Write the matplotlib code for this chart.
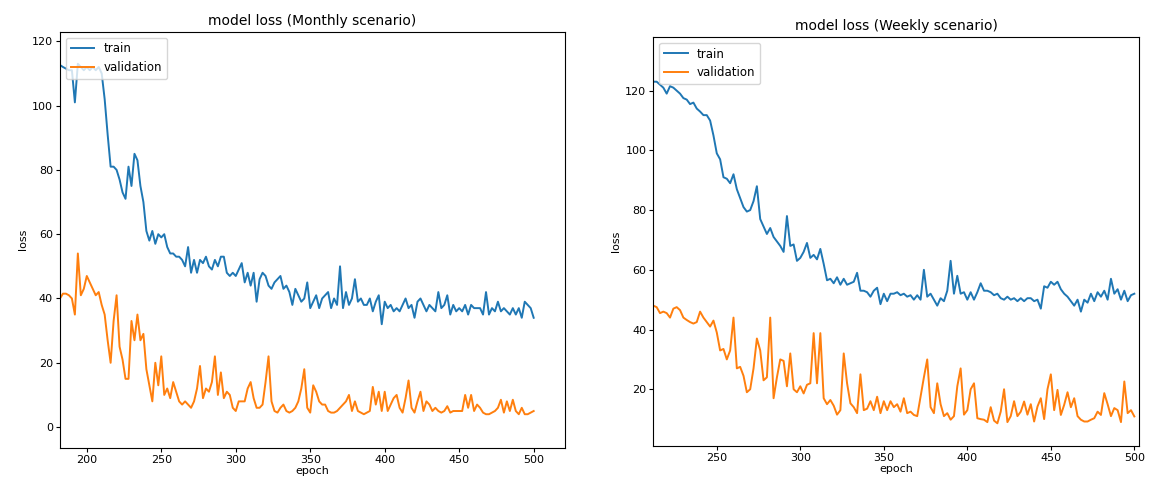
# model loss curves, monthly vs weekly scenario

import numpy as np
import matplotlib
matplotlib.use('Agg')
import matplotlib.pyplot as plt

# monthly scenario, every 2nd epoch from 182 to 500
monthly_epochs = np.arange(182, 501, 2)
monthly_train = [
    112.6, 112, 111.5, 111, 111, 101, 113, 112, 111, 112,
    111, 112, 111, 112, 110, 102, 91, 81, 81, 80,
    77, 73, 71, 81, 75, 85, 83, 75, 70, 61,
    58, 61, 57, 60, 59, 60, 56, 54, 54, 53,
    53, 52, 50, 56, 48, 52, 48, 52, 51, 53,
    50, 49, 52, 50, 53, 53, 48, 47, 48, 47,
    49, 51, 45, 48, 44, 48, 39, 46, 48, 47,
    44, 43, 45, 46, 47, 43, 44, 42, 38, 43,
    41, 39, 40, 45, 37, 39, 41, 37, 40, 41,
    42, 37, 40, 38, 50, 37, 42, 38, 40, 46,
    39, 40, 38, 38, 40, 36, 39, 41, 32, 39,
    37, 38, 36, 37, 36, 38, 40, 37, 38, 34,
    39, 40, 38, 36, 38, 37, 36, 42, 37, 38,
    41, 35, 38, 36, 37, 36, 38, 35, 38, 37,
    37, 37, 35, 42, 35, 37, 36, 39, 36, 37,
    36, 35, 37, 35, 37, 34, 39, 38, 37, 34,
]
monthly_val = [
    40, 41.5, 41.5, 41, 40, 35, 54, 41, 43, 47,
    45, 43, 41, 42, 38, 35, 27, 20, 33, 41,
    25, 21, 15, 15, 33, 27, 35, 27, 29, 18,
    13, 8, 20, 13, 22, 10, 12, 9, 14, 11,
    8, 7, 8, 7, 6, 8, 12, 19, 9, 12,
    11, 14, 22, 10, 17, 9, 11, 10, 6, 5,
    8, 8, 8, 12, 14, 9, 6, 6, 7, 14,
    22, 8, 5, 4.5, 6, 7, 5, 4.5, 5, 6,
    8, 12, 18, 6, 4.5, 13, 11, 8, 7, 7,
    5, 4.5, 4.5, 5, 6, 7, 8, 10, 5, 8,
    5, 4.5, 4, 4.5, 5, 12.5, 7, 11, 5, 11,
    5, 7, 9, 10, 6, 4.5, 9, 14.5, 6, 4.5,
    8, 11, 5, 8, 7, 5, 6, 5, 4.5, 5,
    6.5, 4.5, 5, 5, 5, 5, 10, 6, 10, 5,
    7, 6, 4.5, 4, 4, 4.5, 5, 6, 8.5, 4.5,
    8, 5, 8.5, 5, 4, 6, 4, 4, 4.5, 5,
]

# weekly scenario, every 2nd epoch from 212 to 500
weekly_epochs = np.arange(212, 501, 2)
weekly_train = [
    123, 123, 122, 121, 119, 121.5, 121, 120, 119, 117.5,
    117, 115.5, 116, 114, 113, 111.8, 111.8, 110, 105, 99,
    97, 91, 90.5, 89, 92, 87, 84, 81, 79.5, 80,
    83, 88, 77, 74.5, 72, 74, 71, 69.5, 68, 66,
    78, 68, 68.5, 63, 64, 66, 69, 64, 65, 63.5,
    67, 62, 56.5, 57, 55.5, 57.5, 55, 57, 55, 55.5,
    56, 59, 53, 53, 52.5, 51, 53, 54, 48.5, 52,
    49.5, 52, 52, 52.5, 51.5, 52, 51, 51.5, 50, 51.5,
    50, 60, 51, 52, 50, 48, 50.5, 49.5, 53, 63,
    52, 58, 52, 52.5, 50, 52.5, 50, 52.5, 55.5, 53,
    53, 52.5, 51.5, 52, 50.5, 50, 51, 50, 50.5, 49.5,
    50.5, 49.5, 50.5, 50.5, 49.5, 50, 47, 54.5, 54, 56,
    55, 56, 53.5, 52, 51, 49.5, 48, 50, 46, 50,
    49, 52, 49.5, 52.5, 51, 53, 50, 57, 52, 53.5,
    50, 53, 49.5, 51.5, 52,
]
weekly_val = [
    48, 47.5, 45.5, 46, 45.5, 44, 47, 47.5, 46.5, 44,
    43.2, 42.5, 42, 42.5, 46, 44, 42.5, 41, 43, 39,
    33, 33.5, 30, 33, 44, 27, 27.5, 24.5, 19, 20,
    27, 37, 33, 23, 24, 44, 17, 24, 30, 29.5,
    21, 32, 20, 19, 21, 18.6, 21.5, 22, 38.8, 22,
    38.8, 17, 15, 16.4, 14.5, 11.5, 13, 32, 22, 15.3,
    14, 12, 25, 13, 13.5, 16, 13, 17.5, 12, 16,
    13, 16, 14, 15, 12.5, 17, 12, 12.5, 11.4, 11,
    17.6, 24, 30, 14, 12, 22, 15, 11, 12, 9.8,
    11, 21, 27, 11.5, 13, 20, 22, 10.3, 10, 9.8,
    9, 14, 9.5, 8.6, 12.5, 20, 9, 11, 16, 11,
    12.5, 15.9, 11.5, 15, 9.2, 14.2, 17, 10, 20, 25,
    13, 19.8, 11.4, 14.8, 19, 14, 17, 11, 9.8, 9.2,
    9.2, 9.8, 10.3, 12.5, 11.4, 18.7, 15, 11, 13.7, 13,
    9, 22.6, 12, 13, 10.9,
]

fig = plt.figure(figsize=(11.49, 4.83), dpi=100)
ax1 = fig.add_axes([0.0522, 0.0725, 0.4395, 0.862])
ax2 = fig.add_axes([0.5686, 0.0766, 0.423, 0.847])

panels = [
    (ax1, monthly_epochs, monthly_train, monthly_val, 'model loss (Monthly scenario)', (182, 521), (-6.5, 123)),
    (ax2, weekly_epochs, weekly_train, weekly_val, 'model loss (Weekly scenario)', (212, 503), (1, 138)),
]
for ax, ep, tr, va, title, xl, yl in panels:
    ax.plot(ep, tr, color='#1f77b4', lw=1.4, label='train')
    ax.plot(ep, va, color='#ff7f0e', lw=1.4, label='validation')
    ax.set_xlim(*xl)
    ax.set_ylim(*yl)
    ax.set_title(title, fontsize=10, pad=5)
    ax.set_xlabel('epoch', fontsize=8, labelpad=1)
    ax.set_ylabel('loss', fontsize=8, labelpad=3)
    ax.tick_params(labelsize=8, length=3, pad=2)
    ax.legend(loc='upper left', fontsize=8.5)

fig.savefig('out.png', dpi=100)
